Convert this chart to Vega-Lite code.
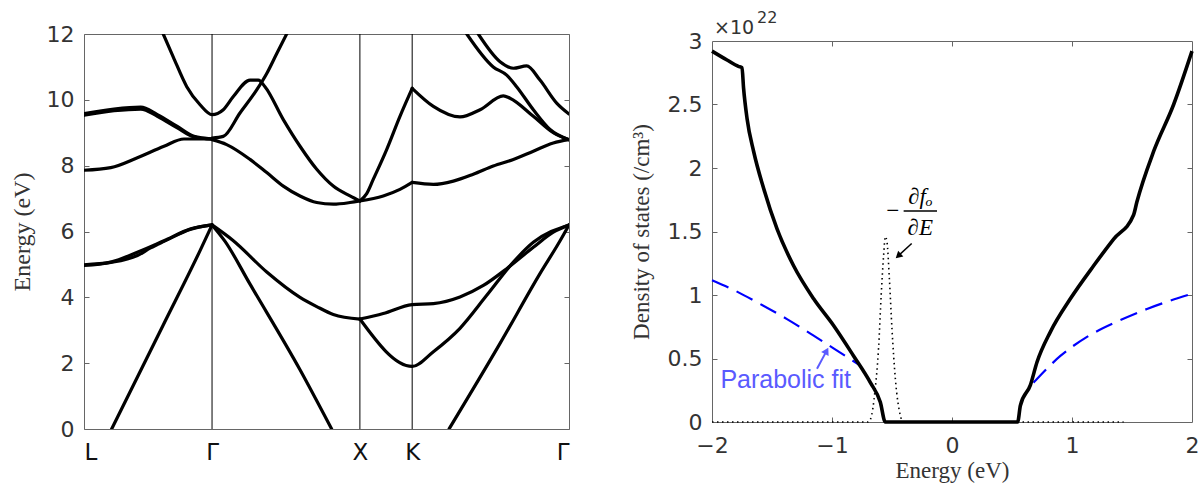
{
  "$schema": "https://vega.github.io/schema/vega-lite/v6.json",
  "background": "white",
  "padding": {"left": 9, "top": 9, "right": 5, "bottom": 5},
  "config": {
    "view": {"stroke": "#666", "strokeWidth": 1},
    "axis": {"domainColor": "#666", "tickColor": "#666", "labelColor": "#333", "titleColor": "#333", "labelFont": "DejaVu Sans", "labelFontSize": 22, "titleFont": "Liberation Serif", "titleFontSize": 24, "titleFontWeight": "normal", "grid": false, "labelOverlap": false, "labelFlush": false}
  },
  "datasets": {
    "kpts": [{"k": 0.866}, {"k": 1.866}, {"k": 2.2196}],
    "bands": [
      {"b": "A1", "k": 0.187, "e": 0}, {"b": "A1", "k": 0.536, "e": 3.16}, {"b": "A1", "k": 0.785, "e": 5.42}, {"b": "A1", "k": 0.866, "e": 6.2},
      {"b": "A2", "k": 0.866, "e": 6.2}, {"b": "A2", "k": 0.954, "e": 5.7}, {"b": "A2", "k": 1.123, "e": 4.4}, {"b": "A2", "k": 1.461, "e": 1.8}, {"b": "A2", "k": 1.675, "e": 0},
      {"b": "A3", "k": 2.469, "e": 0}, {"b": "A3", "k": 2.814, "e": 2.6}, {"b": "A3", "k": 3.084, "e": 4.72}, {"b": "A3", "k": 3.22, "e": 5.72}, {"b": "A3", "k": 3.2803, "e": 6.2},
      {"b": "B1", "k": 0, "e": 4.97}, {"b": "B1", "k": 0.181, "e": 5.07}, {"b": "B1", "k": 0.361, "e": 5.37}, {"b": "B1", "k": 0.541, "e": 5.72}, {"b": "B1", "k": 0.722, "e": 6.08}, {"b": "B1", "k": 0.866, "e": 6.2},
      {"b": "B2", "k": 0, "e": 4.99}, {"b": "B2", "k": 0.181, "e": 5.06}, {"b": "B2", "k": 0.361, "e": 5.27}, {"b": "B2", "k": 0.45, "e": 5.5}, {"b": "B2", "k": 0.541, "e": 5.7}, {"b": "B2", "k": 0.722, "e": 6.07}, {"b": "B2", "k": 0.866, "e": 6.2},
      {"b": "C", "k": 0.866, "e": 6.2}, {"b": "C", "k": 1.01, "e": 5.72}, {"b": "C", "k": 1.236, "e": 4.77}, {"b": "C", "k": 1.461, "e": 4.0}, {"b": "C", "k": 1.574, "e": 3.72}, {"b": "C", "k": 1.686, "e": 3.48}, {"b": "C", "k": 1.866, "e": 3.34},
      {"b": "D", "k": 1.866, "e": 3.34}, {"b": "D", "k": 2.024, "e": 3.51}, {"b": "D", "k": 2.2196, "e": 3.78}, {"b": "D", "k": 2.363, "e": 3.81}, {"b": "D", "k": 2.543, "e": 4.01}, {"b": "D", "k": 2.701, "e": 4.36}, {"b": "D", "k": 2.859, "e": 4.87}, {"b": "D", "k": 3.039, "e": 5.52}, {"b": "D", "k": 3.174, "e": 5.98}, {"b": "D", "k": 3.2803, "e": 6.2},
      {"b": "E", "k": 1.866, "e": 3.34}, {"b": "E", "k": 2.2196, "e": 1.9}, {"b": "E", "k": 2.363, "e": 2.35}, {"b": "E", "k": 2.543, "e": 3.06}, {"b": "E", "k": 2.724, "e": 4.06}, {"b": "E", "k": 2.904, "e": 5.07}, {"b": "E", "k": 3.039, "e": 5.67}, {"b": "E", "k": 3.2803, "e": 6.2},
      {"b": "F", "k": 0, "e": 7.86}, {"b": "F", "k": 0.181, "e": 7.94}, {"b": "F", "k": 0.361, "e": 8.24}, {"b": "F", "k": 0.541, "e": 8.59}, {"b": "F", "k": 0.676, "e": 8.81}, {"b": "F", "k": 0.866, "e": 8.81},
      {"b": "G1", "k": 0, "e": 9.58}, {"b": "G1", "k": 0.203, "e": 9.72}, {"b": "G1", "k": 0.384, "e": 9.78}, {"b": "G1", "k": 0.496, "e": 9.55}, {"b": "G1", "k": 0.631, "e": 9.19}, {"b": "G1", "k": 0.744, "e": 8.89}, {"b": "G1", "k": 0.866, "e": 8.81},
      {"b": "G2", "k": 0, "e": 9.53}, {"b": "G2", "k": 0.203, "e": 9.67}, {"b": "G2", "k": 0.384, "e": 9.72}, {"b": "G2", "k": 0.496, "e": 9.5}, {"b": "G2", "k": 0.631, "e": 9.15}, {"b": "G2", "k": 0.744, "e": 8.87}, {"b": "G2", "k": 0.866, "e": 8.81},
      {"b": "H", "k": 0.536, "e": 12.0}, {"b": "H", "k": 0.604, "e": 11.3}, {"b": "H", "k": 0.695, "e": 10.4}, {"b": "H", "k": 0.785, "e": 9.85}, {"b": "H", "k": 0.866, "e": 9.55}, {"b": "H", "k": 0.942, "e": 9.7}, {"b": "H", "k": 1.01, "e": 10.1}, {"b": "H", "k": 1.123, "e": 10.6}, {"b": "H", "k": 1.179, "e": 10.6}, {"b": "H", "k": 1.224, "e": 10.4}, {"b": "H", "k": 1.348, "e": 9.4}, {"b": "H", "k": 1.461, "e": 8.59}, {"b": "H", "k": 1.574, "e": 7.89}, {"b": "H", "k": 1.686, "e": 7.38}, {"b": "H", "k": 1.799, "e": 7.08}, {"b": "H", "k": 1.866, "e": 6.93},
      {"b": "I", "k": 0.866, "e": 8.84}, {"b": "I", "k": 0.942, "e": 8.89}, {"b": "I", "k": 1.055, "e": 9.6}, {"b": "I", "k": 1.168, "e": 10.3}, {"b": "I", "k": 1.236, "e": 10.8}, {"b": "I", "k": 1.303, "e": 11.4}, {"b": "I", "k": 1.371, "e": 12.0},
      {"b": "J", "k": 0.866, "e": 8.79}, {"b": "J", "k": 0.965, "e": 8.64}, {"b": "J", "k": 1.123, "e": 8.19}, {"b": "J", "k": 1.236, "e": 7.79}, {"b": "J", "k": 1.348, "e": 7.38}, {"b": "J", "k": 1.461, "e": 7.08}, {"b": "J", "k": 1.574, "e": 6.88}, {"b": "J", "k": 1.686, "e": 6.83}, {"b": "J", "k": 1.799, "e": 6.88}, {"b": "J", "k": 1.866, "e": 6.93},
      {"b": "K1", "k": 1.866, "e": 6.93}, {"b": "K1", "k": 1.912, "e": 7.15}, {"b": "K1", "k": 1.957, "e": 7.59}, {"b": "K1", "k": 2.047, "e": 8.49}, {"b": "K1", "k": 2.137, "e": 9.5}, {"b": "K1", "k": 2.2196, "e": 10.35},
      {"b": "K2", "k": 1.866, "e": 6.93}, {"b": "K2", "k": 2.024, "e": 7.08}, {"b": "K2", "k": 2.137, "e": 7.28}, {"b": "K2", "k": 2.2196, "e": 7.49},
      {"b": "L1", "k": 2.2196, "e": 7.49}, {"b": "L1", "k": 2.363, "e": 7.43}, {"b": "L1", "k": 2.498, "e": 7.53}, {"b": "L1", "k": 2.633, "e": 7.74}, {"b": "L1", "k": 2.768, "e": 7.99}, {"b": "L1", "k": 2.904, "e": 8.19}, {"b": "L1", "k": 3.039, "e": 8.44}, {"b": "L1", "k": 3.174, "e": 8.69}, {"b": "L1", "k": 3.2803, "e": 8.79},
      {"b": "L2", "k": 2.2196, "e": 10.35}, {"b": "L2", "k": 2.363, "e": 9.8}, {"b": "L2", "k": 2.543, "e": 9.48}, {"b": "L2", "k": 2.679, "e": 9.7}, {"b": "L2", "k": 2.836, "e": 10.12}, {"b": "L2", "k": 2.881, "e": 10.05}, {"b": "L2", "k": 3.039, "e": 9.5}, {"b": "L2", "k": 3.174, "e": 9.0}, {"b": "L2", "k": 3.2803, "e": 8.79},
      {"b": "M1", "k": 2.589, "e": 12.0}, {"b": "M1", "k": 2.768, "e": 11.0}, {"b": "M1", "k": 2.859, "e": 10.75}, {"b": "M1", "k": 2.926, "e": 10.4}, {"b": "M1", "k": 3.039, "e": 9.7}, {"b": "M1", "k": 3.152, "e": 9.1}, {"b": "M1", "k": 3.2803, "e": 8.79},
      {"b": "M2", "k": 2.667, "e": 12.0}, {"b": "M2", "k": 2.814, "e": 11.16}, {"b": "M2", "k": 2.904, "e": 10.96}, {"b": "M2", "k": 2.994, "e": 11.03}, {"b": "M2", "k": 3.084, "e": 10.6}, {"b": "M2", "k": 3.197, "e": 9.9}, {"b": "M2", "k": 3.2803, "e": 9.57}
    ],
    "dos": [
      {"E": -2, "D": 2.92}, {"E": -1.875, "D": 2.85}, {"E": -1.78, "D": 2.8}, {"E": -1.75, "D": 2.79}, {"E": -1.737, "D": 2.63}, {"E": -1.708, "D": 2.39}, {"E": -1.653, "D": 2.13}, {"E": -1.57, "D": 1.84}, {"E": -1.458, "D": 1.52}, {"E": -1.32, "D": 1.23}, {"E": -1.153, "D": 0.97}, {"E": -0.987, "D": 0.76}, {"E": -0.82, "D": 0.52}, {"E": -0.68, "D": 0.31}, {"E": -0.597, "D": 0.155}, {"E": -0.556, "D": 0},
      {"E": 0.547, "D": 0}, {"E": 0.57, "D": 0.13}, {"E": 0.653, "D": 0.29}, {"E": 0.708, "D": 0.47}, {"E": 0.82, "D": 0.71}, {"E": 0.986, "D": 0.97}, {"E": 1.18, "D": 1.23}, {"E": 1.347, "D": 1.44}, {"E": 1.513, "D": 1.63}, {"E": 1.54, "D": 1.73}, {"E": 1.68, "D": 2.13}, {"E": 1.847, "D": 2.5}, {"E": 2.0, "D": 2.92}
    ],
    "fit": [
      {"side": "v", "E": -2, "D": 1.116}, {"side": "v", "E": -1.82, "D": 1.04}, {"side": "v", "E": -1.6, "D": 0.93}, {"side": "v", "E": -1.375, "D": 0.81}, {"side": "v", "E": -1.153, "D": 0.68}, {"side": "v", "E": -0.987, "D": 0.58}, {"side": "v", "E": -0.765, "D": 0.445},
      {"side": "c", "E": 0.68, "D": 0.31}, {"side": "c", "E": 0.903, "D": 0.52}, {"side": "c", "E": 1.125, "D": 0.67}, {"side": "c", "E": 1.375, "D": 0.79}, {"side": "c", "E": 1.625, "D": 0.89}, {"side": "c", "E": 2.0, "D": 1.01}
    ],
    "fd": [
      {"E": -2, "D": 0}, {"E": -0.7, "D": 0}, {"E": -0.68, "D": 0.02}, {"E": -0.64, "D": 0.26}, {"E": -0.612, "D": 0.58}, {"E": -0.59, "D": 1.0}, {"E": -0.57, "D": 1.31}, {"E": -0.556, "D": 1.46}, {"E": -0.542, "D": 1.42}, {"E": -0.522, "D": 1.13}, {"E": -0.5, "D": 0.73}, {"E": -0.472, "D": 0.34}, {"E": -0.43, "D": 0.05}, {"E": -0.41, "D": 0}, {"E": 1.43, "D": 0}
    ],
    "arrows": [
      {"id": "pf", "E": -1.125, "D": 0.42, "E2": -1.045, "D2": 0.56},
      {"id": "df", "E": -0.336, "D": 1.405, "E2": -0.448, "D2": 1.308},
      {"id": "bar", "E": -0.403, "D": 1.661, "E2": -0.125, "D2": 1.661}
    ],
    "notes": [
      {"id": "pf", "t": "Parabolic fit", "E": -1.93, "D": 0.33},
      {"id": "minus", "t": "−", "E": -0.493, "D": 1.661},
      {"id": "num", "t": "∂fₒ", "E": -0.264, "D": 1.77},
      {"id": "den", "t": "∂E", "E": -0.264, "D": 1.53}
    ],
    "mult": [
      {"id": "base", "t": "×10", "E": -2, "D": 3},
      {"id": "exp", "t": "22", "E": -2, "D": 3}
    ]
  },
  "spacing": 143,
  "bounds": "flush",
  "center": true,
  "hconcat": [
    {
      "width": 485,
      "height": 395,
      "resolve": {"axis": {"x": "independent", "y": "independent"}},
      "layer": [
        {
          "data": {"name": "kpts"},
          "mark": {"type": "rule", "color": "black", "strokeWidth": 1},
          "encoding": {"x": {"field": "k", "type": "quantitative", "scale": {"domain": [0, 3.2803], "nice": false, "zero": false}, "axis": null}}
        },
        {
          "data": {"name": "bands"},
          "mark": {"type": "line", "color": "black", "strokeWidth": 3.2, "clip": true, "strokeJoin": "round", "strokeCap": "round", "interpolate": "monotone"},
          "encoding": {
            "x": {"field": "k", "type": "quantitative", "axis": {"values": [0, 0.866, 1.866, 2.2196, 3.2803], "labelExpr": "datum.value < 0.5 ? 'L' : datum.value < 1.5 ? 'Γ' : datum.value < 2 ? 'X' : datum.value < 3 ? 'K' : 'Γ'", "labelFlush": true, "ticks": false, "domain": false, "title": null, "labelPadding": 12, "labelFontSize": 23, "labelColor": "#111"}},
            "y": {"field": "e", "type": "quantitative", "scale": {"domain": [0, 12], "nice": false}, "axis": {"values": [0, 2, 4, 6, 8, 10, 12], "ticks": false, "domain": false, "title": "Energy (eV)", "labelPadding": 10, "titlePadding": 12}},
            "detail": {"field": "b"}
          }
        },
        {
          "data": {"name": "bands"},
          "mark": {"type": "point", "opacity": 0, "size": 0},
          "encoding": {
            "x": {"field": "k", "type": "quantitative", "axis": null},
            "y": {"field": "e", "type": "quantitative", "axis": {"orient": "right", "values": [0, 2, 4, 6, 8, 10, 12], "labels": false, "title": null, "tickSize": -5, "domain": false}}
          }
        },
        {
          "data": {"name": "bands"},
          "mark": {"type": "point", "opacity": 0, "size": 0},
          "encoding": {
            "x": {"field": "k", "type": "quantitative", "axis": null},
            "y": {"field": "e", "type": "quantitative", "axis": {"orient": "left", "values": [0, 2, 4, 6, 8, 10, 12], "labels": false, "title": null, "tickSize": -5, "domain": false}}
          }
        }
      ]
    },
    {
      "width": 480,
      "height": 381,
      "resolve": {"axis": {"x": "independent", "y": "independent"}},
      "layer": [
        {
          "data": {"name": "fd"},
          "mark": {"type": "line", "color": "black", "strokeWidth": 1.6, "strokeDash": [1.5, 3.5], "interpolate": "monotone"},
          "encoding": {
            "x": {"field": "E", "type": "quantitative", "scale": {"domain": [-2, 2], "nice": false}, "axis": {"values": [-2, -1, 0, 1, 2], "ticks": false, "domain": false, "title": "Energy (eV)", "titleFontSize": 23, "labelPadding": 13, "titlePadding": 3}},
            "y": {"field": "D", "type": "quantitative", "scale": {"domain": [0, 3], "nice": false}, "axis": {"values": [0, 0.5, 1, 1.5, 2, 2.5, 3], "labelExpr": "datum.value + ''", "ticks": false, "domain": false, "title": "Density of states (/cm³)", "titleFontSize": 23, "labelPadding": 10, "titlePadding": 14}}
          }
        },
        {
          "data": {"name": "fit"},
          "mark": {"type": "line", "color": "#0000ff", "strokeWidth": 2.2, "strokeDash": [18, 9], "interpolate": "monotone"},
          "encoding": {
            "x": {"field": "E", "type": "quantitative", "axis": null},
            "y": {"field": "D", "type": "quantitative", "axis": null},
            "detail": {"field": "side"}
          }
        },
        {
          "data": {"name": "dos"},
          "mark": {"type": "line", "color": "black", "strokeWidth": 3.6, "strokeJoin": "round", "interpolate": "monotone"},
          "encoding": {
            "x": {"field": "E", "type": "quantitative", "axis": null},
            "y": {"field": "D", "type": "quantitative", "axis": null}
          }
        },
        {
          "data": {"name": "arrows"},
          "transform": [{"filter": "datum.id == 'pf'"}],
          "mark": {"type": "rule", "color": "#5a5aff", "strokeWidth": 2},
          "encoding": {
            "x": {"field": "E", "type": "quantitative", "axis": null},
            "y": {"field": "D", "type": "quantitative", "axis": null},
            "x2": {"field": "E2"},
            "y2": {"field": "D2"}
          }
        },
        {
          "data": {"name": "arrows"},
          "transform": [{"filter": "datum.id != 'pf'"}],
          "mark": {"type": "rule", "color": "black", "strokeWidth": 1.5},
          "encoding": {
            "x": {"field": "E", "type": "quantitative", "axis": null},
            "y": {"field": "D", "type": "quantitative", "axis": null},
            "x2": {"field": "E2"},
            "y2": {"field": "D2"}
          }
        },
        {
          "data": {"name": "arrows"},
          "transform": [{"filter": "datum.id == 'pf'"}],
          "mark": {"type": "point", "shape": "triangle-up", "filled": true, "color": "#5a5aff", "opacity": 1, "size": 70, "angle": 28},
          "encoding": {
            "x": {"field": "E2", "type": "quantitative", "axis": null},
            "y": {"field": "D2", "type": "quantitative", "axis": null}
          }
        },
        {
          "data": {"name": "arrows"},
          "transform": [{"filter": "datum.id == 'df'"}],
          "mark": {"type": "point", "shape": "triangle-up", "filled": true, "color": "black", "opacity": 1, "size": 60, "angle": 228},
          "encoding": {
            "x": {"field": "E2", "type": "quantitative", "axis": null},
            "y": {"field": "D2", "type": "quantitative", "axis": null}
          }
        },
        {
          "data": {"name": "notes"},
          "transform": [{"filter": "datum.id == 'pf'"}],
          "mark": {"type": "text", "align": "left", "baseline": "middle", "font": "Liberation Sans", "fontSize": 25, "color": "#5a5aff"},
          "encoding": {
            "x": {"field": "E", "type": "quantitative", "axis": null},
            "y": {"field": "D", "type": "quantitative", "axis": null},
            "text": {"field": "t"}
          }
        },
        {
          "data": {"name": "notes"},
          "transform": [{"filter": "datum.id != 'pf'"}],
          "mark": {"type": "text", "align": "center", "baseline": "middle", "font": "Liberation Serif", "fontStyle": "italic", "fontSize": 23, "color": "black"},
          "encoding": {
            "x": {"field": "E", "type": "quantitative", "axis": null},
            "y": {"field": "D", "type": "quantitative", "axis": null},
            "text": {"field": "t"}
          }
        },
        {
          "data": {"name": "mult"},
          "transform": [{"filter": "datum.id == 'base'"}],
          "mark": {"type": "text", "align": "left", "baseline": "alphabetic", "font": "DejaVu Sans", "fontSize": 19, "color": "#333", "dx": 2, "dy": -7},
          "encoding": {
            "x": {"field": "E", "type": "quantitative", "axis": null},
            "y": {"field": "D", "type": "quantitative", "axis": null},
            "text": {"field": "t"}
          }
        },
        {
          "data": {"name": "mult"},
          "transform": [{"filter": "datum.id == 'exp'"}],
          "mark": {"type": "text", "align": "left", "baseline": "alphabetic", "font": "DejaVu Sans", "fontSize": 16, "color": "#333", "dx": 45, "dy": -18},
          "encoding": {
            "x": {"field": "E", "type": "quantitative", "axis": null},
            "y": {"field": "D", "type": "quantitative", "axis": null},
            "text": {"field": "t"}
          }
        },
        {
          "data": {"name": "dos"},
          "mark": {"type": "point", "opacity": 0, "size": 0},
          "encoding": {
            "x": {"field": "E", "type": "quantitative", "axis": {"orient": "top", "values": [-1, 0, 1], "labels": false, "title": null, "tickSize": -5, "domain": false}},
            "y": {"field": "D", "type": "quantitative", "axis": {"orient": "right", "values": [0.5, 1, 1.5, 2, 2.5], "labels": false, "title": null, "tickSize": -5, "domain": false}}
          }
        },
        {
          "data": {"name": "dos"},
          "mark": {"type": "point", "opacity": 0, "size": 0},
          "encoding": {
            "x": {"field": "E", "type": "quantitative", "axis": {"orient": "bottom", "values": [-1, 0, 1], "labels": false, "title": null, "tickSize": -5, "domain": false}},
            "y": {"field": "D", "type": "quantitative", "axis": {"orient": "left", "values": [0.5, 1, 1.5, 2, 2.5], "labels": false, "title": null, "tickSize": -5, "domain": false}}
          }
        }
      ]
    }
  ]
}
